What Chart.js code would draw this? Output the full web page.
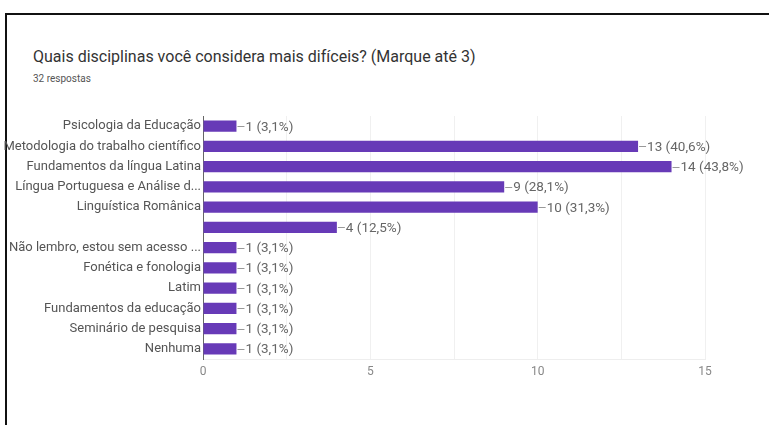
<!DOCTYPE html>
<html>
<head>
<meta charset="utf-8">
<script src="https://cdn.jsdelivr.net/npm/chart.js@4/dist/chart.umd.min.js"></script>
<style>
    html, body { margin: 0; padding: 0; background: #fff; }
    body { width: 769px; height: 425px; position: relative; overflow: hidden; font-family: Roboto, Arial, sans-serif; }
    .frame { position: absolute; left: 5px; top: 13px; right: 0; bottom: 0; border-top: 2px solid #111; border-left: 2px solid #111; }
    .title { position: absolute; left: 33px; top: 47px; font-size: 16px; color: #333; white-space: nowrap; }
    .subtitle { position: absolute; left: 33px; top: 73px; font-size: 10px; color: #555; }
    .chart-container { position: absolute; left: 0; top: 0; width: 769px; height: 425px; }
</style>
</head>
<body>
<div class="frame"></div>
<div class="title">Quais disciplinas você considera mais difíceis? (Marque até 3)</div>
<div class="subtitle">32 respostas</div>
<div class="chart-container"><canvas id="respostasChart" width="769" height="425"></canvas></div>
<script>
// Data
const CATEGORIES = [
    'Psicologia da Educação',
    'Metodologia do trabalho científico',
    'Fundamentos da língua Latina',
    'Língua Portuguesa e Análise d...',
    'Linguística Românica',
    '',
    'Não lembro, estou sem acesso ...',
    'Fonética e fonologia',
    'Latim',
    'Fundamentos da educação',
    'Seminário de pesquisa',
    'Nenhuma'
];
const COUNTS = [1, 13, 14, 9, 10, 4, 1, 1, 1, 1, 1, 1];
const TOTAL_RESPONSES = 32;
const X_TICKS = [0, 5, 10, 15];

const BAR_COLOR = '#673ab7';
const TEXT_COLOR = '#555';

// Draws "—n (p%)" next to each bar end
const valueLabels = {
    id: 'valueLabels',
    afterDatasetsDraw(chart) {
        const ctx = chart.ctx;
        const meta = chart.getDatasetMeta(0);
        ctx.save();
        ctx.font = '13.5px Roboto, Arial, sans-serif';
        ctx.textBaseline = 'middle';
        ctx.fillStyle = '#666';
        ctx.strokeStyle = '#999';
        ctx.lineWidth = 1;
        meta.data.forEach((bar, i) => {
            const v = COUNTS[i];
            const pct = (v / TOTAL_RESPONSES * 100).toFixed(1).replace('.', ',');
            ctx.beginPath();
            ctx.moveTo(bar.x + 1, Math.round(bar.y) + 0.5);
            ctx.lineTo(bar.x + 8, Math.round(bar.y) + 0.5);
            ctx.stroke();
            ctx.fillText(`${v} (${pct}%)`, bar.x + 9, bar.y + 1);
        });
        ctx.restore();
    }
};

const ctx = document.getElementById('respostasChart').getContext('2d');
new Chart(ctx, {
    type: 'bar',
    data: {
        labels: CATEGORIES,
        datasets: [{
            data: COUNTS,
            backgroundColor: BAR_COLOR,
            borderWidth: 0,
            barPercentage: 0.55,
            categoryPercentage: 1
        }]
    },
    options: {
        indexAxis: 'y',
        responsive: false,
        animation: false,
        layout: { padding: { top: 116, right: 64, left: 0, bottom: 0 } },
        plugins: {
            legend: { display: false },
            tooltip: { enabled: false }
        },
        scales: {
            x: {
                min: 0,
                max: 15,
                afterFit: (scale) => { scale.height = 66; },
                ticks: {
                    stepSize: 2.5,
                    autoSkip: false,
                    maxRotation: 0,
                    padding: 6,
                    color: '#888',
                    font: { family: 'Roboto', size: 12 },
                    callback: (value) => X_TICKS.includes(value) ? value : ''
                },
                grid: { color: '#f0f0f0', drawTicks: false },
                border: { color: '#eeeeee' }
            },
            y: {
                afterFit: (scale) => { scale.width = 203; },
                ticks: {
                    autoSkip: false,
                    padding: 2,
                    color: TEXT_COLOR,
                    font: { family: 'Roboto', size: 13 }
                },
                grid: { display: false, drawTicks: false },
                border: { color: '#666' }
            }
        }
    },
    plugins: [valueLabels]
});
</script>
</body>
</html>
